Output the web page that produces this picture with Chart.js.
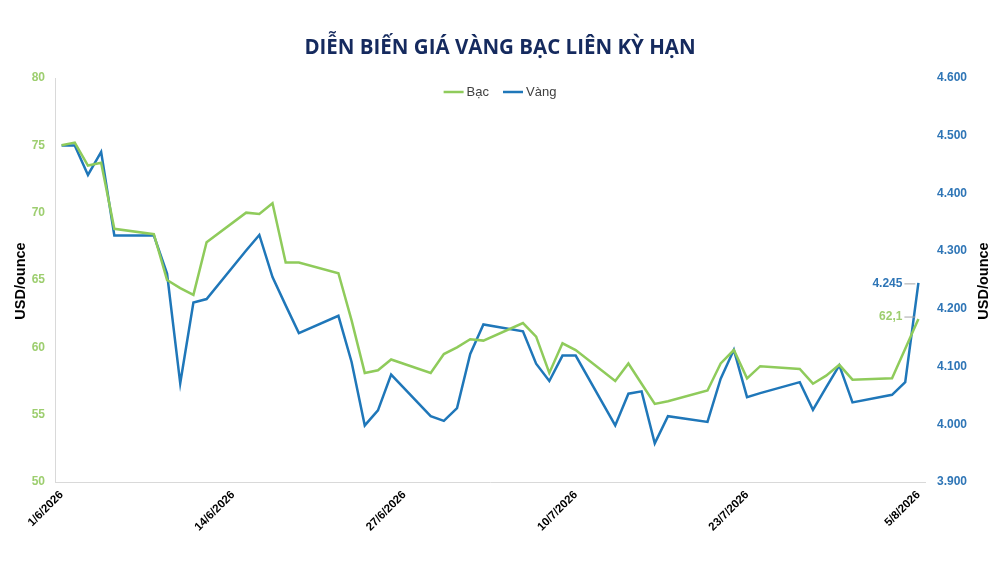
<!DOCTYPE html>
<html>
<head>
<meta charset="utf-8">
<script src="https://cdn.jsdelivr.net/npm/chart.js@4.4.1/dist/chart.umd.min.js"></script>
<style>
  html, body { margin: 0; padding: 0; background: #ffffff; }
  #chart { display: block; }
</style>
</head>
<body>
<canvas id="chart" width="1000" height="562"></canvas>
<script>
// trading days shown in the chart (weekends are skipped, lines span them)
const dates = [
    '1/6/2026', '2/6/2026', '3/6/2026', '4/6/2026', '5/6/2026',
    '8/6/2026', '9/6/2026', '10/6/2026', '11/6/2026', '12/6/2026',
    '15/6/2026', '16/6/2026', '17/6/2026', '18/6/2026', '19/6/2026',
    '22/6/2026', '23/6/2026', '24/6/2026', '25/6/2026', '26/6/2026',
    '29/6/2026', '30/6/2026', '1/7/2026', '2/7/2026', '3/7/2026',
    '6/7/2026', '7/7/2026', '8/7/2026', '9/7/2026', '10/7/2026',
    '13/7/2026', '14/7/2026', '15/7/2026', '16/7/2026', '17/7/2026',
    '20/7/2026', '21/7/2026', '22/7/2026', '23/7/2026', '24/7/2026',
    '27/7/2026', '28/7/2026', '29/7/2026', '30/7/2026', '31/7/2026',
    '3/8/2026', '4/8/2026', '5/8/2026'
];

// Bạc (silver), USD/ounce - left axis
const silver = [
    75.0, 75.2, 73.5, 73.7, 68.8,
    68.4, 65.0, 64.4, 63.9, 67.8,
    70.0, 69.9, 70.7, 66.3, 66.3,
    65.5, 62.0, 58.1, 58.3, 59.1,
    58.1, 59.5, 60.0, 60.6, 60.5,
    61.8, 60.8, 58.1, 60.3, 59.8,
    57.5, 58.8, 57.3, 55.8, 56.0,
    56.8, 58.8, 59.8, 57.7, 58.6,
    58.4, 57.3, 57.9, 58.7, 57.6,
    57.7, 59.9, 62.1
];

// Vàng (gold), USD/ounce - right axis
const gold = [
    4483, 4483, 4432, 4472, 4327,
    4327, 4261, 4071, 4211, 4217,
    4301, 4328, 4255, 4206, 4158,
    4188, 4108, 3998, 4024, 4086,
    4014, 4006, 4028, 4122, 4173,
    4161, 4105, 4075, 4119, 4119,
    3998, 4053, 4057, 3967, 4014,
    4004, 4079, 4129, 4047, 4054,
    4073, 4025, 4064, 4102, 4038,
    4051, 4073, 4245
];

const tickDates = ['1/6/2026', '14/6/2026', '27/6/2026', '10/7/2026', '23/7/2026', '5/8/2026'];

const GREEN = '#8fcb5b';
const GREEN_TEXT = '#9dce6f';
const BLUE = '#1f77b9';
const BLUE_TEXT = '#2e75b6';
const FONT = "'Liberation Sans', Arial, sans-serif";

function dayOffset(s) {
    const [d, m, y] = s.split('/').map(Number);
    return Math.round((Date.UTC(y, m - 1, d) - Date.UTC(2026, 5, 1)) / 86400000);
}

function thousands(v) {
    return String(Math.round(v)).replace(/\B(?=(\d{3})+(?!\d))/g, '.');
}

const tickDays = tickDates.map(dayOffset);
const silverPoints = dates.map((d, i) => ({ x: dayOffset(d), y: silver[i] }));
const goldPoints = dates.map((d, i) => ({ x: dayOffset(d), y: gold[i] }));

// legend sits inside the plot area near its top, so it is drawn here
const innerLegend = {
    id: 'innerLegend',
    afterDraw(chart) {
        const ctx = chart.ctx;
        const sets = chart.data.datasets;
        const y = 92;
        ctx.save();
        ctx.font = '13px ' + FONT;
        ctx.textBaseline = 'middle';
        const widths = sets.map(ds => 20 + 3 + ctx.measureText(ds.label).width);
        const total = widths.reduce((a, b) => a + b, 0) + 14 * (sets.length - 1);
        let x = 500 - total / 2;
        sets.forEach((ds, i) => {
            ctx.strokeStyle = ds.borderColor;
            ctx.lineWidth = 2.5;
            ctx.beginPath();
            ctx.moveTo(x, y);
            ctx.lineTo(x + 20, y);
            ctx.stroke();
            ctx.fillStyle = '#404040';
            ctx.textAlign = 'left';
            ctx.fillText(ds.label, x + 23, y);
            x += widths[i] + 14;
        });
        ctx.restore();
    }
};

// axis titles + end-of-line value labels
const extras = {
    id: 'extras',
    afterDatasetsDraw(chart) {
        const ctx = chart.ctx;
        const area = chart.chartArea;
        const midY = (area.top + area.bottom) / 2;

        ctx.save();
        ctx.fillStyle = '#000000';
        ctx.font = 'bold 14.5px ' + FONT;
        ctx.textAlign = 'center';
        ctx.textBaseline = 'middle';
        [20.5, 984].forEach(x => {
            ctx.save();
            ctx.translate(x, midY + 1);
            ctx.rotate(-Math.PI / 2);
            ctx.fillText('USD/ounce', 0, 0);
            ctx.restore();
        });

        const labels = [
            { ds: 1, text: thousands(gold[gold.length - 1]), color: BLUE_TEXT, dy: 1 },
            { ds: 0, text: silver[silver.length - 1].toFixed(1).replace('.', ','), color: GREEN_TEXT, dy: -2 }
        ];
        ctx.font = 'bold 12px ' + FONT;
        ctx.textAlign = 'right';
        labels.forEach(l => {
            const pts = chart.getDatasetMeta(l.ds).data;
            const p = pts[pts.length - 1];
            const y = p.y + l.dy;
            ctx.strokeStyle = '#a6a6a6';
            ctx.lineWidth = 1;
            ctx.beginPath();
            ctx.moveTo(p.x - 14, y);
            ctx.lineTo(p.x - 3, y);
            ctx.stroke();
            ctx.fillStyle = l.color;
            ctx.fillText(l.text, p.x - 16, y);
        });
        ctx.restore();
    }
};

new Chart(document.getElementById('chart'), {
    type: 'line',
    data: {
        datasets: [
            {
                label: 'Bạc',
                data: silverPoints,
                yAxisID: 'ySilver',
                borderColor: GREEN,
                backgroundColor: GREEN,
                borderWidth: 2.5,
                pointRadius: 0,
                tension: 0,
                spanGaps: true
            },
            {
                label: 'Vàng',
                data: goldPoints,
                yAxisID: 'yGold',
                borderColor: BLUE,
                backgroundColor: BLUE,
                borderWidth: 2.5,
                pointRadius: 0,
                tension: 0,
                spanGaps: true
            }
        ]
    },
    options: {
        responsive: false,
        animation: false,
        layout: { padding: 0 },
        plugins: {
            title: {
                display: true,
                text: 'DIỄN BIẾN GIÁ VÀNG BẠC LIÊN KỲ HẠN',
                color: '#152a5e',
                font: { family: "'Open Sans', sans-serif", size: 20.5, weight: 'bold', lineHeight: 1.2 },
                padding: { top: 36, bottom: 17.4 }
            },
            legend: { display: false },
            tooltip: { enabled: false }
        },
        scales: {
            x: {
                type: 'linear',
                min: -0.5,
                max: 65.5,
                afterBuildTicks: s => { s.ticks = tickDays.map(v => ({ value: v })); },
                afterFit: s => { s.height = 80; },
                grid: { display: false, drawTicks: false },
                border: { display: true, color: '#d9d9d9', width: 1 },
                ticks: {
                    autoSkip: false,
                    minRotation: 45,
                    maxRotation: 45,
                    padding: 6,
                    color: '#000000',
                    font: { family: FONT, size: 11.5, weight: 'bold' },
                    callback: v => tickDates[tickDays.indexOf(v)] || ''
                }
            },
            ySilver: {
                position: 'left',
                min: 50,
                max: 80,
                afterFit: s => { s.width = 55; },
                grid: { display: false, drawTicks: false },
                border: { display: true, color: '#d9d9d9', width: 1 },
                ticks: {
                    stepSize: 5,
                    padding: 10,
                    color: GREEN_TEXT,
                    font: { family: FONT, size: 12, weight: 'bold' }
                }
            },
            yGold: {
                position: 'right',
                min: 3900,
                max: 4600,
                afterFit: s => { s.width = 75; },
                grid: { display: false, drawTicks: false },
                border: { display: false },
                ticks: {
                    stepSize: 100,
                    padding: 12,
                    color: BLUE_TEXT,
                    font: { family: FONT, size: 12, weight: 'bold' },
                    callback: v => thousands(v)
                }
            }
        }
    },
    plugins: [innerLegend, extras]
});
</script>
</body>
</html>
